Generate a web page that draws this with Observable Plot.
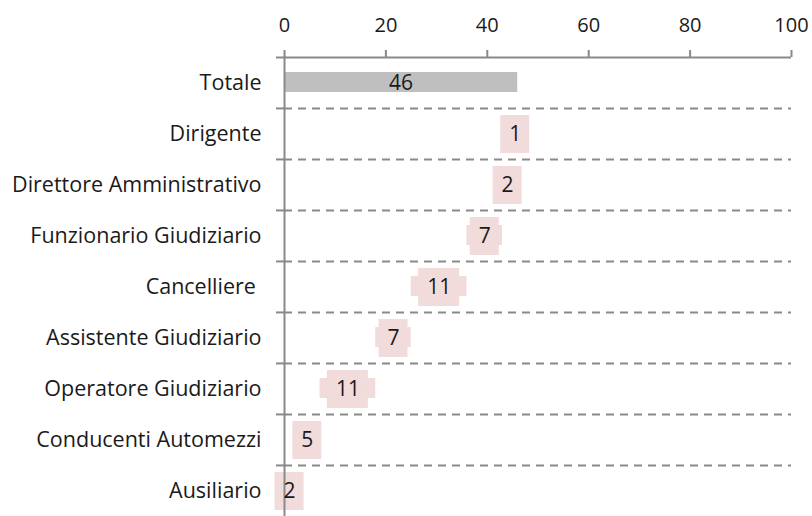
<!DOCTYPE html>
<html>
<head>
<meta charset="utf-8">
<script src="https://cdn.jsdelivr.net/npm/d3@7"></script>
<script src="https://cdn.jsdelivr.net/npm/@observablehq/plot@0.6"></script>
<style>
  html, body { margin: 0; padding: 0; background: #fff; }
  #chart svg { display: block; }
</style>
</head>
<body>
<div id="chart"></div>
<script>
const categories = ["Totale", "Dirigente", "Direttore Amministrativo", "Funzionario Giudiziario", "Cancelliere ", "Assistente Giudiziario", "Operatore Giudiziario", "Conducenti Automezzi", "Ausiliario"];
const values = [46, 1, 2, 7, 11, 7, 11, 5, 2];
const xTicks = [0, 20, 40, 60, 80, 100];

const width = 812, height = 516, marginTop = 56, marginBottom = 0, marginLeft = 284, marginRight = 21;
const bw = (height - marginTop - marginBottom) / categories.length;

const total = {cat: categories[0], value: values[0]};
let running = values[0];
const steps = categories.slice(1).map((cat, i) => {
  const v = values[i + 1];
  const end = running;
  const start = running - v;
  running = start;
  return {cat, value: v, start, end, mid: (start + end) / 2};
});

const pink = "#f2dbdb";
const axisGray = "#898989";
const font = "'Open Sans', Lato, sans-serif";
const txt = "#1a1a1a";

const chart = Plot.plot({
  width, height, marginTop, marginBottom, marginLeft, marginRight,
  style: {fontFamily: font, background: "#fff"},
  x: {domain: [0, 100]},
  y: {domain: categories, padding: 0},
  marks: [
    Plot.barX([total], {x1: 0, x2: "value", y: "cat", fill: "#bfbfbf", insetTop: 15, insetBottom: 16}),
    Plot.barX(steps, {x1: "start", x2: "end", y: "cat", fill: pink, insetTop: 15, insetBottom: 16}),
    Plot.barX(steps.filter(d => String(d.value).length === 1), {x1: "mid", x2: "mid", y: "cat", fill: pink, insetTop: 7, insetBottom: 6, insetLeft: -14.5, insetRight: -14.5}),
    Plot.barX(steps.filter(d => String(d.value).length === 2), {x1: "mid", x2: "mid", y: "cat", fill: pink, insetTop: 7, insetBottom: 6, insetLeft: -20.5, insetRight: -20.5}),
    Plot.ruleY(categories.slice(1), {y: d => d, x1: 0, x2: 100, dy: -bw / 2, stroke: axisGray, strokeWidth: 2, strokeDasharray: "8,6"}),
    Plot.ruleY(categories.slice(1), {y: d => d, x1: 0, x2: 0, insetLeft: -8, dy: -bw / 2, stroke: axisGray, strokeWidth: 2}),
    Plot.ruleY([categories[0]], {y: d => d, x1: 0, x2: 100, insetLeft: -8, dy: -bw / 2, stroke: axisGray, strokeWidth: 2}),
    Plot.ruleX([0], {stroke: axisGray, strokeWidth: 2}),
    Plot.text([total], {x: d => d.value / 2, y: "cat", text: d => String(d.value), fontSize: 21, fill: txt}),
    Plot.text(steps, {x: "mid", y: "cat", text: d => String(d.value), fontSize: 21, fill: txt}),
    Plot.axisX({anchor: "top", ticks: xTicks, tickFormat: d => String(d), tickSize: 7, tickPadding: 18, stroke: axisGray, strokeWidth: 2, fontSize: 20, fill: txt, label: null}),
    Plot.axisY({tickSize: 0, tickPadding: 23, fontSize: 21.5, fill: txt, label: null, tickFormat: d => d.replace(/ $/, "\u00a0")})
  ]
});
document.getElementById("chart").appendChild(chart);
</script>
</body>
</html>
